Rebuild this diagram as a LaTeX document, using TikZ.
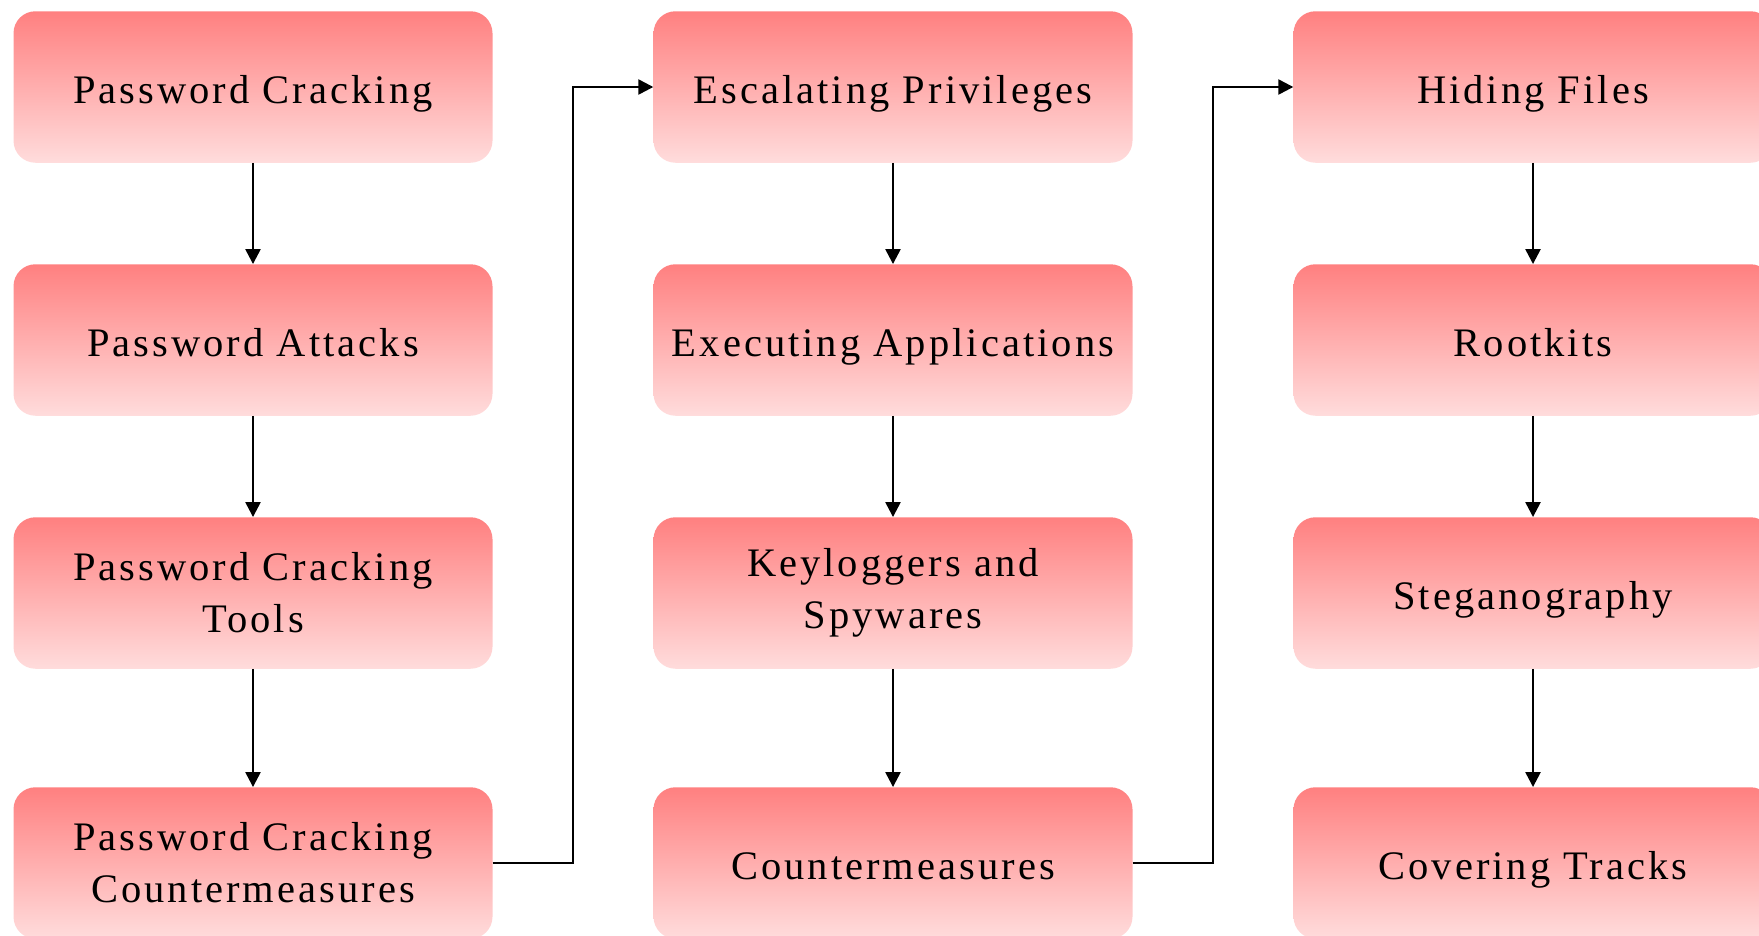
\documentclass[tikz,border=0pt]{standalone}
\usepackage{fontspec}
\setmainfont{Liberation Serif}[LetterSpace=7.5]
\usetikzlibrary{arrows.meta}
\definecolor{boxtop}{RGB}{255,128,128}
\definecolor{boxbottom}{RGB}{255,220,220}
\begin{document}
\begin{tikzpicture}[x=1pt,y=-1pt,
  stage/.style={rectangle, rounded corners=22pt, draw=none,
    top color=boxtop, bottom color=boxbottom,
    minimum width=479pt, minimum height=151.5pt,
    align=center, font=\fontsize{40.5}{52}\selectfont, inner sep=0pt},
  oneline/.style={stage, text height=36pt, text depth=4pt},
  conn/.style={line width=2.4pt, -{Triangle[length=15pt,width=15pt]}}]
\useasboundingbox (0,0) rectangle (1759,935);
% first column
\node[oneline] (a1) at (253,87)  {Password Cracking};
\node[oneline] (a2) at (253,340) {Password Attacks};
\node[stage]   (a3) at (253,593) {Password Cracking\\Tools};
\node[stage]   (a4) at (253,863) {Password Cracking\\Countermeasures};
% second column
\node[oneline] (b1) at (893,87)  {Escalating Privileges};
\node[oneline] (b2) at (893,340) {Executing Applications};
\node[stage]   (b3) at (893,593) {Keyloggers and\\Spywares};
\node[oneline] (b4) at (893,863) {Countermeasures};
% third column
\node[oneline] (c1) at (1533,87)  {Hiding Files};
\node[oneline] (c2) at (1533,340) {Rootkits};
\node[oneline] (c3) at (1533,593) {Steganography};
\node[oneline] (c4) at (1533,863) {Covering Tracks};
% vertical links
\foreach \c in {a,b,c}{
  \draw[conn] (\c1.south) -- (\c2.north);
  \draw[conn] (\c2.south) -- (\c3.north);
  \draw[conn] (\c3.south) -- (\c4.north);
}
% links between columns
\draw[conn] (a4.east) -- ([xshift=80.5pt]a4.east) |- (b1.west);
\draw[conn] (b4.east) -- ([xshift=80pt]b4.east) |- (c1.west);
\end{tikzpicture}
\end{document}
